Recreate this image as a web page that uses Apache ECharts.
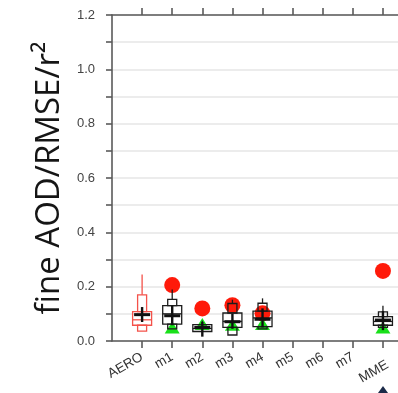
<!DOCTYPE html>
<html>
<head>
<meta charset="utf-8">
<script src="https://cdn.jsdelivr.net/npm/echarts@6/dist/echarts.min.js"></script>
<style>
  html, body { margin: 0; padding: 0; background: #fff; }
  #chart { width: 398px; height: 393px; }
</style>
</head>
<body>
<div id="chart"></div>
<script>
// Model names along the x axis
const categories = ['AERO', 'm1', 'm2', 'm3', 'm4', 'm5', 'm6', 'm7', 'MME'];

// Box statistics per model (null = no data)
const boxMax = [0.245, 0.19, 0.075, 0.152, 0.157, null, null, null, 0.13];
const boxP90 = [0.17, 0.153, 0.06, 0.138, 0.139, null, null, null, 0.107];
const boxP75 = [0.108, 0.13, 0.06, 0.103, 0.11, null, null, null, 0.09];
const boxMed = [0.078, 0.10, 0.046, 0.072, 0.085, null, null, null, 0.072];
const boxP25 = [0.058, 0.062, 0.035, 0.05, 0.053, null, null, null, 0.058];
const boxP10 = [0.036, 0.045, 0.035, 0.022, 0.045, null, null, null, 0.05];
const boxMin = [0.036, 0.045, 0.035, 0.022, 0.045, null, null, null, 0.05];

// Mean with its spread (cross marker)
const meanVal = [0.097, 0.093, 0.05, 0.071, 0.08, null, null, null, 0.077];
const meanLo = [0.07, 0.058, 0.016, 0.045, 0.05, null, null, null, 0.04];
const meanHi = [0.125, 0.13, 0.07, 0.1, 0.12, null, null, null, 0.11];

// Single-value markers
const redDots = [null, 0.206, 0.12, 0.132, 0.102, null, null, null, 0.258];
const greenTriangles = [null, 0.05, 0.063, 0.06, 0.063, null, null, null, 0.05];

// Y ticks every 0.1, labels every 0.2
const yMin = 0, yMax = 1.2, yStep = 0.1;

const idx = categories.map((c, i) => i);

const boxData = idx.filter(i => boxMax[i] != null)
  .map(i => [i, boxMax[i], boxP90[i], boxP75[i], boxMed[i], boxP25[i], boxP10[i], boxMin[i]]);
const meanData = idx.filter(i => meanVal[i] != null)
  .map(i => [i, meanVal[i], meanLo[i], meanHi[i]]);
const redData = idx.filter(i => redDots[i] != null).map(i => [i, redDots[i]]);
const greenData = idx.filter(i => greenTriangles[i] != null).map(i => [i, greenTriangles[i]]);

const AXIS_COLOR = '#5a5a5a';

function renderBox(params, api) {
  const i = api.value(0);
  const x = api.coord([i, 0])[0];
  const Y = k => api.coord([i, api.value(k)])[1];
  const yMaxP = Y(1), y90 = Y(2), y75 = Y(3), yMd = Y(4), y25 = Y(5), y10 = Y(6), yMinP = Y(7);
  const col = i === 0 ? '#f4524a' : '#1c1c1c';
  const wide = 19, narrow = 9;
  const style = { stroke: col, fill: 'none', lineWidth: 1.3 };
  const kids = [];
  if (yMaxP < y90) kids.push({ type: 'line', shape: { x1: x, y1: yMaxP, x2: x, y2: y90 }, style });
  if (y90 < y75) kids.push({ type: 'rect', shape: { x: x - narrow / 2, y: y90, width: narrow, height: y75 - y90 }, style });
  kids.push({ type: 'rect', shape: { x: x - wide / 2, y: y75, width: wide, height: y25 - y75 }, style });
  kids.push({ type: 'line', shape: { x1: x - wide / 2, y1: yMd, x2: x + wide / 2, y2: yMd }, style });
  if (y10 > y25) kids.push({ type: 'rect', shape: { x: x - narrow / 2, y: y25, width: narrow, height: y10 - y25 }, style });
  if (yMinP > y10) kids.push({ type: 'line', shape: { x1: x, y1: y10, x2: x, y2: yMinP }, style });
  return { type: 'group', children: kids };
}

function renderMean(params, api) {
  const i = api.value(0);
  const x = api.coord([i, 0])[0];
  const ym = api.coord([i, api.value(1)])[1];
  const ylo = api.coord([i, api.value(2)])[1];
  const yhi = api.coord([i, api.value(3)])[1];
  const st = { stroke: '#111', lineWidth: 3, fill: 'none' };
  return {
    type: 'group',
    children: [
      { type: 'line', shape: { x1: x, y1: yhi, x2: x, y2: ylo }, style: { stroke: '#111', lineWidth: 2.4 } },
      { type: 'line', shape: { x1: x - 8, y1: ym, x2: x + 8, y2: ym }, style: st }
    ]
  };
}

const chart = echarts.init(document.getElementById('chart'));
chart.setOption({
  animation: false,
  backgroundColor: '#fff',
  grid: { left: 112, right: 0, top: 15, bottom: 52 },
  xAxis: [
    {
      type: 'value', position: 'bottom', min: -1, max: 8.5,
      splitLine: { show: false },
      axisLine: { show: true, onZero: false, lineStyle: { color: AXIS_COLOR, width: 1.6 } },
      axisTick: { show: true, inside: false, length: 7, customValues: idx, lineStyle: { color: AXIS_COLOR, width: 1.6 } },
      axisLabel: {
        customValues: idx, rotate: 30, margin: 15,
        fontFamily: 'Liberation Sans, Arial, sans-serif', fontSize: 13.5, color: '#333',
        formatter: v => {
          const name = categories[Math.round(v)];
          return name === 'MME' ? '{low|' + name + '}' : name;
        },
        rich: { low: { padding: [18, 0, 0, 0], fontSize: 13.5, color: '#333' } }
      }
    },
    {
      type: 'value', position: 'top', min: -1, max: 8.5,
      splitLine: { show: false },
      axisLine: { show: true, onZero: false, lineStyle: { color: AXIS_COLOR, width: 1.6 } },
      axisTick: { show: true, inside: false, length: 7, customValues: idx, lineStyle: { color: AXIS_COLOR, width: 1.6 } },
      axisLabel: { show: false }
    }
  ],
  yAxis: {
    type: 'value', min: yMin, max: yMax, interval: yStep,
    name: 'fine AOD/RMSE/r²', nameLocation: 'middle', nameGap: 45,
    nameTextStyle: { fontFamily: 'Open Sans', fontSize: 33, color: '#151515' },
    axisLine: { show: true, onZero: false, lineStyle: { color: AXIS_COLOR, width: 1.6 } },
    axisTick: { show: true, inside: false, length: 6, lineStyle: { color: AXIS_COLOR, width: 1.6 } },
    splitLine: { show: true, lineStyle: { color: '#e6e6e6', width: 1.5 } },
    axisLabel: {
      margin: 17, fontFamily: 'Liberation Sans, Arial, sans-serif', fontSize: 13, color: '#444',
      formatter: v => (Math.round(v * 10) % 2 === 0 ? v.toFixed(1) : '')
    }
  },
  series: [
    {
      type: 'scatter', data: redData, symbol: 'circle', symbolSize: 16, z: 2,
      itemStyle: { color: '#ff1a0a', opacity: 1 }
    },
    {
      type: 'scatter', data: greenData, symbol: 'triangle', symbolSize: [15, 12], z: 3,
      itemStyle: { color: '#19e01a', opacity: 1 }
    },
    {
      type: 'custom', data: boxData, renderItem: renderBox, z: 4,
      encode: { x: 0, y: [1, 2, 3, 4, 5, 6, 7] }
    },
    {
      type: 'custom', data: meanData, renderItem: renderMean, z: 5,
      encode: { x: 0, y: [1, 2, 3] }
    }
  ],
  graphic: [
    { type: 'polygon', shape: { points: [[378, 393], [383, 386], [388, 393]] }, style: { fill: '#1b2a48' } }
  ]
});
</script>
</body>
</html>
